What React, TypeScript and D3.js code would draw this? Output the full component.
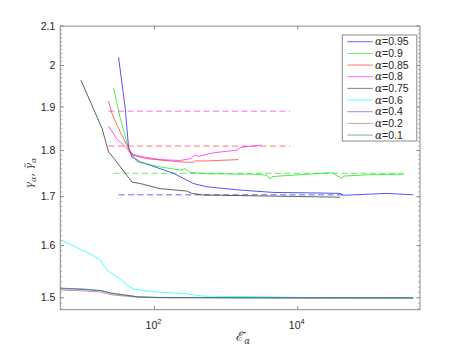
import React from 'react'
import * as d3 from 'd3'

// alpha values and their colours, in legend order
const alphas = ['0.95', '0.9', '0.85', '0.8', '0.75', '0.6', '0.4', '0.2', '0.1']
const colors = ['#0000ff', '#00e000', '#ff2020', '#ff00ff', '#303030', '#00ffff', '#7a2ad0', '#b06a30', '#008080']

// [E, gamma] points
const a095: [number, number][] = [
  [31.5, 2.02], [39, 1.897], [43.4, 1.808], [48.4, 1.786], [63.2, 1.775], [184, 1.75], [350, 1.728],
  [538, 1.721], [1567, 1.714], [4570, 1.709], [18400, 1.708], [38900, 1.707], [43200, 1.703],
  [174000, 1.707], [409000, 1.704],
]
const a090: [number, number][] = [
  [26.8, 1.945], [33.3, 1.873], [43.4, 1.805], [56.9, 1.775], [120, 1.764], [228, 1.757], [268, 1.76],
  [315, 1.752], [538, 1.749], [2400, 1.748], [3700, 1.746], [4110, 1.738], [4380, 1.743], [10800, 1.747],
  [29800, 1.7515], [41100, 1.739], [43300, 1.744], [102000, 1.747], [297000, 1.748],
]
const a085: [number, number][] = [
  [22.8, 1.914], [25.4, 1.885], [29.9, 1.858], [37, 1.827], [43.4, 1.805], [48.4, 1.79], [78.3, 1.782],
  [120, 1.779], [228, 1.775], [350, 1.774], [370, 1.777], [538, 1.777], [1486, 1.78],
]
const a080: [number, number][] = [
  [22.8, 1.855], [29.9, 1.826], [41.2, 1.805], [45.8, 1.794], [63.2, 1.787], [120, 1.78], [228, 1.778],
  [315, 1.782], [370, 1.79], [411, 1.787], [665, 1.795], [1410, 1.801], [1567, 1.807], [2160, 1.8096],
  [3150, 1.812],
]
const a075: [number, number][] = [
  [9.4, 1.964], [18.5, 1.85], [22.8, 1.797], [28.3, 1.779], [48.4, 1.731], [63.2, 1.728], [120, 1.717],
  [283, 1.712], [332, 1.707], [482, 1.7036], [4110, 1.7014], [38900, 1.699],
]
const a060: [number, number][] = [
  [4.84, 1.612], [13.4, 1.582], [17.5, 1.572], [21.7, 1.552], [33.3, 1.535], [41.2, 1.524], [50.9, 1.516],
  [102, 1.511], [254, 1.508], [482, 1.503], [2540, 1.502], [18400, 1.5], [409000, 1.4995],
]
const a040: [number, number][] = [
  [4.84, 1.517], [10, 1.5155], [18, 1.513], [25, 1.508], [40, 1.5045], [60, 1.5015], [120, 1.5005],
  [1000, 1.5], [10000, 1.4998], [409000, 1.4997],
]
const a020: [number, number][] = [
  [4.84, 1.5145], [10, 1.513], [18, 1.5105], [25, 1.5055], [40, 1.503], [60, 1.501], [120, 1.5],
  [10000, 1.4998], [409000, 1.4997],
]
const a010: [number, number][] = [
  [4.84, 1.518], [10, 1.5165], [18, 1.5135], [25, 1.509], [40, 1.505], [60, 1.5015], [120, 1.5005],
  [10000, 1.4999], [409000, 1.4998],
]
const curves = [a095, a090, a085, a080, a075, a060, a040, a020, a010]

// theoretical levels (dashed): value, x start, x end, colour index
const refLevels = [1.89, 1.81, 1.75, 1.704]
const refStart = [22.8, 22.8, 26.8, 31.5]
const refEnd = [7800, 7800, 300000, 43000]
const refColor = [3, 2, 1, 0]

const yTicks = [1.5, 1.6, 1.7, 1.8, 1.9, 2, 2.1]
const xTicks = [100, 10000]

const W = 464, H = 348
const L = 60.3, R = 420, T = 26.1, B = 309.7

export default function App() {
  const x = d3.scaleLog().domain([4.84, 5.08e5]).range([L, R])
  const y = d3.scaleLog().domain([1.478, 2.1]).range([B, T])
  const line = d3.line<[number, number]>().x(d => x(d[0])).y(d => y(d[1]))
  const minor = d3.range(148, 211).map(v => v / 100)
  const sans = '"Liberation Sans", Arial, sans-serif'
  const serif = '"DejaVu Serif", "Liberation Serif", serif'

  return (
    <div style={{ position: 'fixed', left: 0, top: 0 }}>
      <svg width={W} height={H} style={{ display: 'block', background: '#fff' }}>
        <defs>
          <clipPath id="plot"><rect x={L} y={T} width={R - L} height={B - T} /></clipPath>
        </defs>
        <rect x={0} y={0} width={W} height={H} fill="#fff" />
        <g clipPath="url(#plot)">
          {refLevels.map((v, i) => (
            <line key={'r' + i} x1={x(refStart[i])} x2={x(refEnd[i])} y1={y(v)} y2={y(v)}
              stroke={colors[refColor[i]]} strokeWidth={0.75} strokeDasharray="6,3.5" opacity={0.8} />
          ))}
          {curves.map((c, i) => (
            <path key={'c' + i} d={line(c) || ''} fill="none" stroke={colors[i]}
              strokeWidth={i === 4 ? 0.85 : 0.75} strokeLinejoin="round" opacity={0.9} />
          ))}
        </g>
        {/* axis box */}
        <rect x={L} y={T} width={R - L} height={B - T} fill="none" stroke="#8a8a8a" strokeWidth={1} />
        {minor.filter(v => v >= 1.478).map(v => (
          <g key={'m' + v} stroke="#8a8a8a" strokeWidth={0.6}>
            <line x1={L} x2={L + 2} y1={y(v)} y2={y(v)} />
            <line x1={R} x2={R - 2} y1={y(v)} y2={y(v)} />
          </g>
        ))}
        {yTicks.map(v => (
          <g key={'y' + v}>
            <line x1={L} x2={L + 3.6} y1={y(v)} y2={y(v)} stroke="#8a8a8a" />
            <line x1={R} x2={R - 3.6} y1={y(v)} y2={y(v)} stroke="#8a8a8a" />
            <text x={L - 5} y={y(v) + 3.6} textAnchor="end" fontSize={10.5} fontFamily={sans} fill="#262626">
              {String(v)}
            </text>
          </g>
        ))}
        {xTicks.map(v => (
          <g key={'x' + v}>
            <line x1={x(v)} x2={x(v)} y1={B} y2={B - 3.6} stroke="#8a8a8a" />
            <line x1={x(v)} x2={x(v)} y1={T} y2={T + 3.6} stroke="#8a8a8a" />
            <text x={x(v) - 1} y={B + 19} textAnchor="middle" fontSize={10.5} fontFamily={sans} fill="#262626">
              10<tspan dy={-4.5} fontSize={7.5}>{Math.round(Math.log10(v))}</tspan>
            </text>
          </g>
        ))}
        {/* axis labels */}
        <text x={243} y={341} textAnchor="middle" fontSize={13} fontFamily={serif} fill="#404040">
          ℰ̄<tspan dy={3} fontSize={8.5} fontStyle="italic">α</tspan>
        </text>
        <text transform="translate(33,173) rotate(-90)" textAnchor="middle" fontSize={11} fontFamily={serif}
          fill="#505050" fontStyle="italic">
          γ<tspan dy={3} fontSize={8}>α</tspan><tspan dy={-3}>, γ̃</tspan><tspan dy={3} fontSize={8}>α</tspan>
        </text>
        {/* legend */}
        <rect x={342.3} y={35} width={74.5} height={106} fill="#fff" stroke="#8a8a8a" strokeWidth={1} />
        {alphas.map((a, i) => {
          const ly = 41.7 + i * 11.67
          return (
            <g key={'l' + a}>
              <line x1={347.3} x2={372.7} y1={ly} y2={ly} stroke={colors[i]} strokeWidth={0.8} opacity={0.75} />
              <text x={375} y={ly + 3.6} fontSize={10.5} fontFamily={sans} fill="#262626">
                <tspan fontFamily={serif} fontStyle="italic">α</tspan>=0{a.slice(1)}
              </text>
            </g>
          )
        })}
      </svg>
    </div>
  )
}
